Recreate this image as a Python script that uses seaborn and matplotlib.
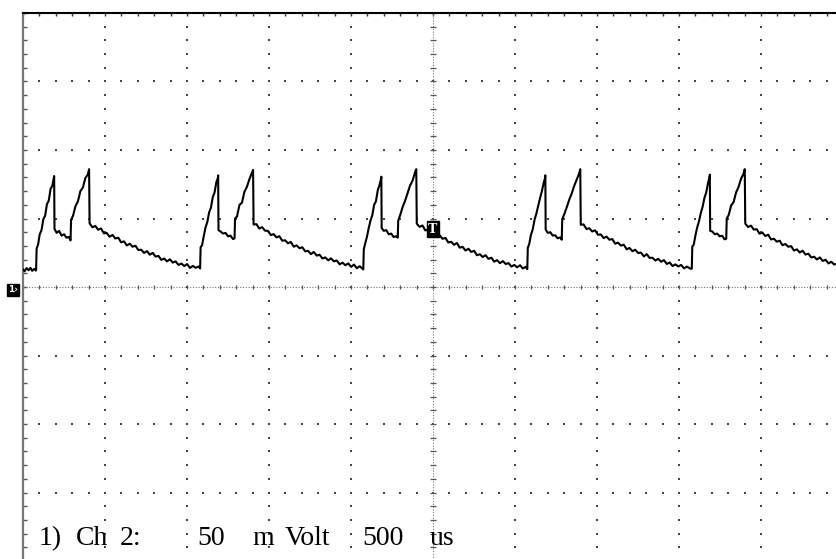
"""Oscilloscope capture: Ch 2, 50 mV/div, 500 us/div.
"""

import numpy as np
import pandas as pd
import seaborn as sns
import matplotlib.pyplot as plt
from matplotlib.ticker import MultipleLocator

# trace: time in us (trigger at 0), level in mV
lead_t = [-2500, -2490, -2478, -2466, -2455, -2444, -2432, -2422]
lead_mv = [13.0, 11.5, 13.8, 12.2, 14.0, 11.8, 13.2, 12.0]

# each pulse: rise, first peak, dip, second ramp and peak, then the slow decay
pulse1_t = [-2420, -2417, -2408, -2398, -2387, -2376, -2365, -2354, -2343, -2332, -2321, -2312, -2310,
            -2308, -2295, -2280, -2265, -2250, -2235, -2220, -2210,
            -2207, -2195, -2180, -2165, -2150, -2135, -2120, -2105, -2097,
            -2094, -2077, -2059, -2042, -2024, -2007, -1989, -1972, -1954, -1937,
            -1919, -1902, -1884, -1867, -1849, -1832, -1814, -1797, -1779, -1762,
            -1744, -1727, -1709, -1692, -1674, -1657, -1639, -1622, -1604, -1587,
            -1569, -1552, -1534, -1517, -1499, -1482, -1464, -1447, -1429]
pulse1_mv = [12.5, 28.0, 31.0, 38.5, 41.5, 49.5, 52.0, 60.5, 63.0, 71.5, 74.0, 80.0, 81.0,
             42.5, 39.5, 41.0, 37.5, 38.5, 36.0, 36.5, 34.0,
             49.0, 52.0, 59.0, 62.5, 70.0, 72.5, 79.5, 82.0, 86.0,
             46.5, 43.6, 44.6, 41.8, 42.7, 39.2, 39.4, 36.7, 38.0, 35.4,
             36.0, 32.6, 33.3, 30.3, 31.6, 29.4, 30.1, 27.0, 27.2, 24.9,
             26.2, 23.6, 24.9, 22.2, 22.7, 19.8, 20.8, 18.7, 20.2, 17.8,
             18.7, 16.1, 17.1, 15.3, 16.7, 13.9, 15.4, 14.0, 15.0]

pulse2_t = [-1420, -1417, -1408, -1398, -1387, -1376, -1365, -1354, -1343, -1332, -1321, -1312, -1310,
            -1308, -1295, -1280, -1265, -1250, -1235, -1220, -1210,
            -1207, -1195, -1180, -1165, -1150, -1135, -1120, -1105, -1097,
            -1094, -1077, -1059, -1042, -1024, -1007, -989, -972, -954, -937,
            -919, -902, -884, -867, -849, -832, -814, -797, -779, -762,
            -744, -727, -709, -692, -674, -657, -639, -622, -604, -587,
            -569, -552, -534, -517, -499, -482, -464, -447, -429]
pulse2_mv = [13.5, 29.0, 30.5, 37.0, 43.5, 47.5, 54.5, 58.0, 65.5, 69.0, 76.5, 79.5, 81.5,
             41.5, 40.5, 39.0, 39.5, 37.0, 37.5, 35.0, 35.5,
             50.0, 51.5, 60.0, 61.5, 69.5, 73.0, 78.5, 83.0, 85.5,
             45.6, 45.9, 42.7, 43.7, 41.1, 41.0, 37.9, 38.6, 36.2, 37.1,
             33.8, 34.1, 31.9, 32.9, 29.4, 30.4, 28.3, 29.0, 26.0, 26.4,
             24.0, 25.6, 22.9, 23.6, 20.8, 21.6, 19.5, 20.9, 18.7, 19.4,
             16.5, 17.8, 15.9, 17.2, 14.7, 16.4, 13.7, 15.2, 13.3]

pulse3_t = [-425, -422, -413, -403, -392, -381, -370, -359, -348, -337, -326, -317, -315,
            -313, -300, -285, -270, -255, -240, -225, -215,
            -212, -200, -185, -170, -155, -140, -125, -110, -102,
            -99, -82, -64, -47, -29, -12, 6, 23, 41, 58,
            76, 93, 111, 128, 146, 163, 181, 198, 216, 233,
            251, 268, 286, 303, 321, 338, 356, 373, 391, 408,
            426, 443, 461, 478, 496, 513, 531, 548, 566]
pulse3_mv = [12.8, 27.5, 32.0, 36.5, 43.0, 48.5, 52.5, 60.0, 62.5, 70.5, 74.5, 79.0, 80.5,
             43.0, 41.0, 41.5, 38.5, 39.0, 36.5, 37.0, 36.0,
             48.5, 52.5, 58.5, 63.0, 68.5, 74.0, 77.5, 83.5, 86.0,
             46.2, 43.9, 44.9, 41.3, 41.9, 39.8, 40.3, 36.7, 37.7, 35.2,
             35.8, 32.5, 33.0, 30.8, 32.1, 28.7, 29.3, 26.6, 27.9, 25.6,
             26.4, 23.2, 23.9, 21.9, 23.2, 20.5, 21.4, 18.5, 19.6, 17.4,
             18.9, 16.8, 17.4, 14.9, 16.1, 14.4, 15.9, 13.5, 14.7]

pulse4_t = [575, 578, 587, 597, 608, 619, 630, 641, 652, 663, 674, 683, 685,
            687, 700, 715, 730, 745, 760, 775, 785,
            788, 800, 815, 830, 845, 860, 875, 890, 898,
            901, 918, 936, 953, 971, 988, 1006, 1023, 1041, 1058,
            1076, 1093, 1111, 1128, 1146, 1163, 1181, 1198, 1216, 1233,
            1251, 1268, 1286, 1303, 1321, 1338, 1356, 1373, 1391, 1408,
            1426, 1443, 1461, 1478, 1496, 1513, 1531, 1548, 1566]
pulse4_mv = [13.0, 28.5, 31.5, 38.0, 42.0, 49.0, 53.5, 59.0, 64.5, 69.5, 75.5, 79.5, 81.5,
             42.0, 39.5, 40.0, 37.5, 37.8, 35.5, 36.2, 34.5,
             49.5, 53.0, 58.0, 63.5, 68.0, 73.5, 78.0, 82.5, 86.0,
             45.4, 45.7, 42.3, 42.9, 40.5, 41.4, 38.1, 38.4, 35.7, 36.8,
             34.5, 35.0, 31.6, 32.4, 30.2, 30.9, 27.5, 28.5, 26.1, 27.2,
             24.8, 25.1, 22.3, 24.0, 21.2, 21.4, 19.3, 20.6, 18.4, 19.6,
             16.8, 17.9, 15.3, 16.5, 15.0, 16.1, 13.6, 14.9, 13.6]

pulse5_t = [1578, 1581, 1590, 1600, 1611, 1622, 1633, 1644, 1655, 1666, 1677, 1686, 1688,
            1690, 1703, 1718, 1733, 1748, 1763, 1778, 1788,
            1791, 1803, 1818, 1833, 1848, 1863, 1878, 1893, 1901,
            1904, 1921, 1939, 1956, 1974, 1991, 2009, 2026, 2044, 2061,
            2079, 2096, 2114, 2131, 2149, 2166, 2184, 2201, 2219, 2236,
            2254, 2271, 2289, 2306, 2324, 2341, 2359, 2376, 2394, 2411,
            2429, 2446, 2464]
pulse5_mv = [13.2, 29.5, 31.0, 37.5, 43.5, 48.0, 54.0, 58.5, 65.0, 69.0, 76.0, 80.0, 82.0,
             41.0, 40.5, 38.5, 39.0, 37.0, 37.4, 34.8, 35.2,
             50.0, 52.5, 59.5, 62.0, 69.0, 73.0, 79.0, 82.5, 86.0,
             46.3, 43.8, 44.8, 41.9, 42.2, 38.9, 39.7, 37.2, 38.2, 34.7,
             35.2, 33.1, 33.8, 30.5, 31.4, 29.4, 29.8, 26.6, 27.5, 25.2,
             26.5, 23.7, 24.3, 21.6, 22.1, 20.1, 21.6, 19.0, 19.9, 17.2,
             18.4, 16.4, 17.0]

trigger_mv = 42
# readout words and where each starts (px from left)
label_words = ["1)", "Ch", "2:", "50", "m", "Volt", "500", "us"]
label_x = [39, 76, 120, 197, 252, 285, 362, 430]

# screen: 10 x 8 divisions
us_per_div = 500
mv_per_div = 50

W, H = 836, 559
fig = plt.figure(figsize=(W / 100, H / 100), dpi=100)
sns.set_style("white")

# screen runs a little past the right and bottom edges of the capture
left, top = 23, 13
scr_w, scr_h = 820, 548
ax = fig.add_axes([left / W, 1 - (top + scr_h) / H, scr_w / W, scr_h / H])

df = pd.DataFrame({
    "t": np.concatenate([lead_t, pulse1_t, pulse2_t, pulse3_t, pulse4_t, pulse5_t]),
    "mv": np.concatenate([lead_mv, pulse1_mv, pulse2_mv, pulse3_mv, pulse4_mv, pulse5_mv]),
})

x_half = 5 * us_per_div
y_half = 4 * mv_per_div
ax.set_xlim(-x_half, x_half)
ax.set_ylim(-y_half, y_half)

# graticule: dotted division lines, denser centre cross
minor_x = np.arange(-x_half, x_half + 1, us_per_div / 5)
minor_y = np.arange(-y_half, y_half + 1, mv_per_div / 5)
for x in np.arange(-x_half + us_per_div, x_half, us_per_div):
    if x == 0:
        continue
    ax.scatter(np.full(len(minor_y), x), minor_y, s=1.3, marker="s", c="#444444", lw=0, zorder=1)
for y in np.arange(-y_half + mv_per_div, y_half, mv_per_div):
    if y == 0:
        continue
    ax.scatter(minor_x, np.full(len(minor_x), y), s=1.3, marker="s", c="#444444", lw=0, zorder=1)

ax.axvline(0, color="#777777", lw=0.8, ls=(0, (1, 1.5)), zorder=1)
ax.axhline(0, color="#777777", lw=0.8, ls=(0, (1, 1.5)), zorder=1)
ax.plot(np.zeros(len(minor_y)), minor_y, ls="none", marker="_", ms=4.5, mew=0.9, color="#555555", zorder=1)
ax.plot(minor_x, np.zeros(len(minor_x)), ls="none", marker="|", ms=3.5, mew=0.9, color="#555555", zorder=1)

sns.lineplot(data=df, x="t", y="mv", estimator=None, sort=False, color="black", lw=1.5, ax=ax, zorder=3)

ax.xaxis.set_major_locator(MultipleLocator(us_per_div))
ax.xaxis.set_minor_locator(MultipleLocator(us_per_div / 5))
ax.yaxis.set_major_locator(MultipleLocator(mv_per_div))
ax.yaxis.set_minor_locator(MultipleLocator(mv_per_div / 5))
ax.tick_params(axis="x", which="both", top=True, bottom=False, direction="in",
               length=2.5, width=1, color="#333333", labeltop=False, labelbottom=False)
ax.tick_params(axis="y", which="both", left=True, right=False, direction="in",
               length=3, width=1, color="#555555", labelleft=False)
ax.set_xlabel("")
ax.set_ylabel("")

for side in ["right", "bottom"]:
    ax.spines[side].set_visible(False)
ax.spines["left"].set_color("#777777")
ax.spines["left"].set_linewidth(1.6)
ax.spines["top"].set_color("black")
ax.spines["top"].set_linewidth(1.5)

# trigger marker and channel ground marker
ax.text(0, trigger_mv, "T", ha="center", va="center", color="white", fontsize=9,
        fontweight="bold", family="DejaVu Serif", zorder=5,
        bbox=dict(boxstyle="square,pad=0.12", fc="black", ec="black"))
fig.text(13 / W, 1 - 290 / H, "1\u203a", ha="center", va="center", color="white", fontsize=6.5,
         fontweight="bold", bbox=dict(boxstyle="square,pad=0.12", fc="black", ec="black"))

# readout along the bottom
serif = ["Liberation Serif", "DejaVu Serif"]
for word, x_px in zip(label_words, label_x):
    fig.text(x_px / W, 1 - 545 / H, word, ha="left", va="baseline",
             fontsize=20, family=serif, color="black")

fig.savefig("out.png", dpi=100)
